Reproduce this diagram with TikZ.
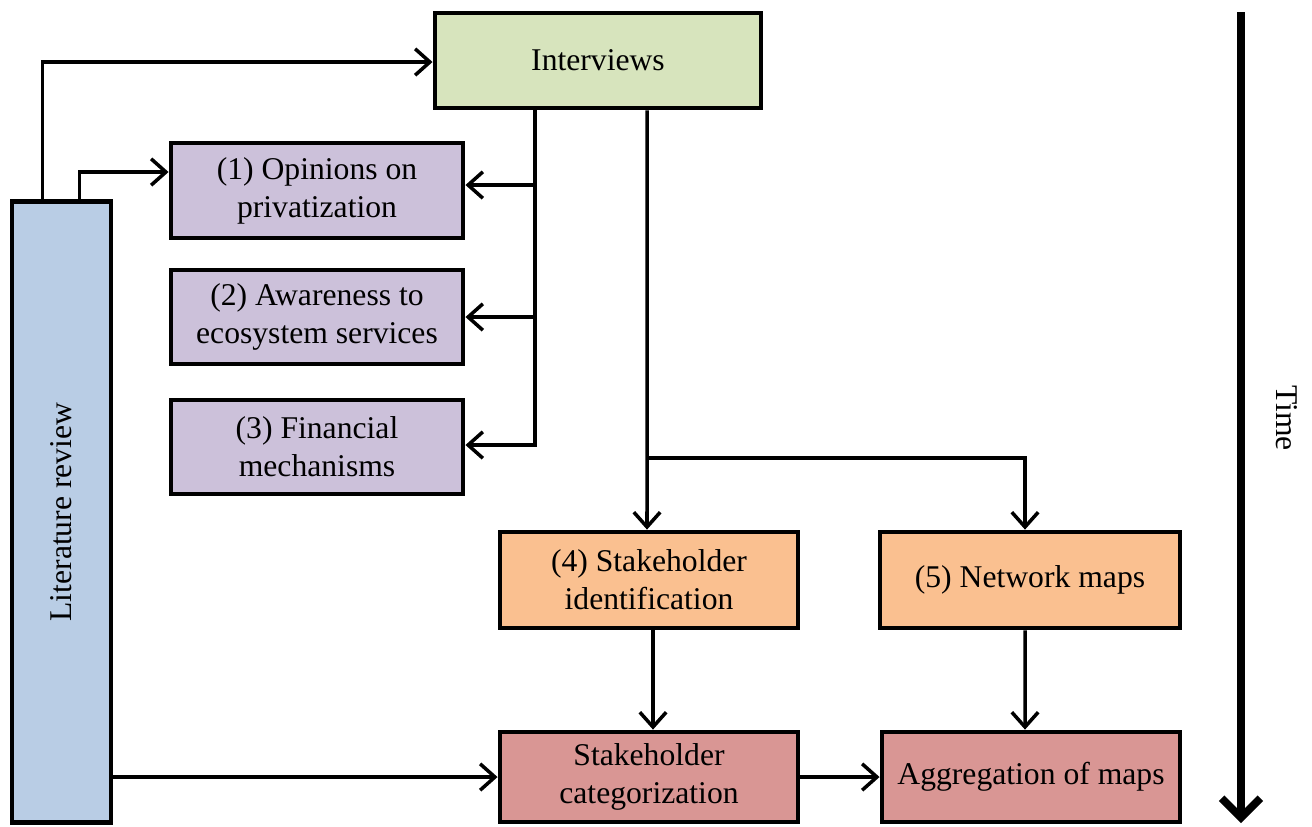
\documentclass[tikz,border=0pt]{standalone}
\usepackage{fontspec}
\setmainfont{Liberation Serif}
\usetikzlibrary{arrows.meta}
\definecolor{ivgreen}{HTML}{D7E4BD}
\definecolor{litblue}{HTML}{B9CDE5}
\definecolor{qpurple}{HTML}{CCC1DA}
\definecolor{storange}{HTML}{FAC090}
\definecolor{outred}{HTML}{D99694}
\tikzset{
  box/.style={draw=black, line width=1.35pt, rectangle, align=center,
    font=\fontsize{9}{10.8}\selectfont, inner sep=0pt},
  conn/.style={draw=black, line width=1pt,
    -{Straight Barb[length=4.2pt,width=7.5pt,line width=1pt]}},
  timearrow/.style={draw=black, line width=2.2pt,
    -{Straight Barb[length=5.5pt,width=11pt,line width=2.2pt]}},
}
\begin{document}
\begin{tikzpicture}[x=0.01cm, y=-0.01cm]
\useasboundingbox (0,0) rectangle (1312,826);

% boxes
\node[box, fill=ivgreen, minimum width=3.26cm, minimum height=0.95cm] (iv) at (598,60.5) {Interviews};
\node[box, fill=qpurple, minimum width=2.92cm, minimum height=0.95cm] (o1) at (317,190.5) {(1) Opinions on\\privatization};
\node[box, fill=qpurple, minimum width=2.92cm, minimum height=0.94cm] (o2) at (317,317) {(2) Awareness to\\ecosystem services};
\node[box, fill=qpurple, minimum width=2.92cm, minimum height=0.94cm] (o3) at (317,447) {(3) Financial\\mechanisms};
\node[box, fill=storange, minimum width=2.98cm, minimum height=0.96cm] (s4) at (649,580) {(4) Stakeholder\\identification};
\node[box, fill=storange, minimum width=3.00cm, minimum height=0.96cm] (s5) at (1030,580) {(5) Network maps};
\node[box, fill=outred, minimum width=2.98cm, minimum height=0.90cm] (sc) at (649,777) {Stakeholder\\categorization};
\node[box, fill=outred, minimum width=2.98cm, minimum height=0.90cm] (agg) at (1031,777) {Aggregation of maps};
\node[box, fill=litblue, minimum width=0.99cm, minimum height=6.20cm] (lit) at (61.5,512) {};
\node[font=\fontsize{9}{10.8}\selectfont, rotate=90] (littext) at (lit.center) {Literature review};

% literature review feeds
\draw[conn] ([xshift=0.33cm]lit.north west) |- ([yshift=-0.015cm]iv.west);
\draw[conn] ([xshift=0.70cm]lit.north west) |- ([yshift=0.185cm]o1.west);
\draw[conn] (lit.east |- sc.west) -- (sc.west);

% interview themes
\draw[conn] ([xshift=-0.63cm]iv.south) |- ([yshift=0.055cm]o1.east);
\draw[conn] ([xshift=-0.63cm]iv.south) |- (o2.east);
\draw[conn] ([xshift=-0.63cm]iv.south) |- ([yshift=0.02cm]o3.east);

% stakeholder branch
\draw[conn] ([xshift=0.49cm]iv.south) -- ([xshift=-0.02cm]s4.north);
\coordinate (split) at (647,458);
\draw[conn] (split) -| ([xshift=-0.05cm]s5.north);
\draw[conn] ([xshift=0.04cm]s4.south) -- ([xshift=0.04cm]sc.north);
\draw[conn] ([xshift=-0.05cm]s5.south) -- ([xshift=-0.06cm]agg.north);
\draw[conn] (sc.east) -- (agg.west);

% time axis
\coordinate (t0) at (1241,12);
\coordinate (t1) at (1241,823);
\draw[timearrow] (t0) -- (t1);
\node[font=\fontsize{9}{10.8}\selectfont, rotate=-90] (time) at (1287,418) {Time};
\end{tikzpicture}
\end{document}
